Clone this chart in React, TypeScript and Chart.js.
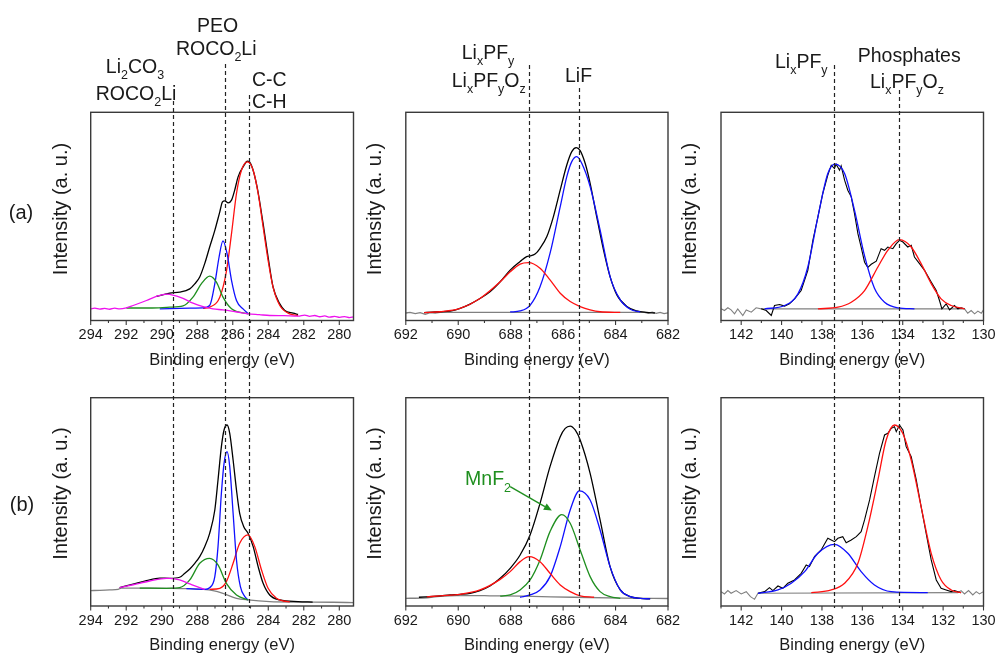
import React, { useEffect, useRef } from 'react';
import { Chart, registerables } from 'chart.js';

Chart.register(...registerables);

const FONT = '"Liberation Sans", Arial, Helvetica, sans-serif';
const TXT = '#1a1a1a';
const FRAME = '#3a3a3a';
const BLACK = '#000000';
const RED = '#ff1010';
const BLUE = '#1010ff';
const GREEN = '#1f8f1f';
const MAGENTA = '#ee11ee';
const GRAY = '#808080';

type Pt = [number, number];

// ---------- axes ----------
const C1S_RANGE: Pt = [279.2, 294];
const F1S_RANGE: Pt = [682, 692];
const P2P_RANGE: Pt = [130, 143];
const C1S_TICKS = [280, 282, 284, 286, 288, 290, 292, 294];
const F1S_TICKS = [682, 684, 686, 688, 690, 692];
const P2P_TICKS = [130, 132, 134, 136, 138, 140, 142];

// reference binding energies (dashed guide lines)
const C1S_REFS = [289.35, 286.45, 285.1];
const F1S_REFS = [687.3, 685.4];
const P2P_REFS = [137.4, 134.2];

// ---------- C 1s, sample (a) ----------
const C1S_A_MAGENTA: Pt[] = [[294.0,5.6],[293.77,5.9],[293.49,5.5],[293.21,5.8],[292.93,5.4],[292.65,5.9],[292.37,5.6],[291.99,6.1],[291.61,7.2],[290.86,9.6],[290.3,11.6],[289.7,12.7],[289.55,12.5],[288.8,10.6],[288.24,8.3],[287.67,6.7],[287.11,5.6],[286.55,5.1],[285.84,4.2],[285.12,3.2],[284.5,2.8],[283.92,2.4],[283.1,2.3],[282.32,2.1],[281.95,2.6],[281.67,2.0],[281.38,2.4],[281.1,1.8],[280.82,2.2],[280.54,1.6],[280.26,2.0],[279.98,1.5],[279.7,1.9],[279.42,1.4],[279.2,1.7]];
const C1S_A_GREEN: Pt[] = [[291.99,6.0],[290.68,6.0],[289.55,6.4],[288.8,7.0],[288.24,11.2],[287.76,17.7],[287.3,21.3],[286.92,18.4],[286.55,11.2],[286.07,5.6],[285.12,3.2]];
const C1S_A_BLUE: Pt[] = [[290.11,5.6],[288.42,5.9],[287.67,6.1],[287.3,7.2],[287.01,17.7],[286.77,30.5],[286.55,38.2],[286.32,32.1],[286.07,19.3],[285.79,9.6],[285.42,5.6],[285.12,3.2]];
const C1S_A_RED: Pt[] = [[287.67,5.8],[287.3,6.4],[286.73,11.2],[286.35,24],[286.07,41.7],[285.79,61],[285.51,72.2],[285.17,76.2],[284.85,72.2],[284.57,61],[284.29,44.9],[284.01,28.9],[283.73,16],[283.35,7.2],[282.79,3.2],[282.32,2.4]];
const C1S_A_BLACK: Pt[] = [[290.3,11.6],[289.74,12.8],[289.55,13.2],[288.99,13.6],[288.42,15.2],[288.14,17.6],[287.86,20.9],[287.58,27.3],[287.3,35.3],[287.01,43.3],[286.73,52.2],[286.58,57.0],[286.45,57.5],[286.26,56.5],[286.07,57.8],[285.89,62.6],[285.7,69.0],[285.42,73.8],[285.17,76.5],[284.95,74.6],[284.63,64.2],[284.29,46.5],[284.01,30.5],[283.73,16.1],[283.35,8.0],[283.07,4.8],[282.6,3.5],[282.32,2.9]];

// ---------- C 1s, sample (b) ----------
const C1S_B_GRAY: Pt[] = [[294.0,7.4],[293.49,7.5],[292.93,7.7],[292.46,8.0],[292.27,8.6],[291.61,8.6],[290.68,8.6],[289.55,8.5],[288.42,8.3],[287.67,8.0],[287.11,7.4],[286.55,6.1],[285.79,3.7],[285.14,2.9],[283.92,2.1],[282.32,1.9],[280.35,1.8],[279.2,1.6]];
const C1S_B_MAGENTA: Pt[] = [[292.37,8.8],[291.61,10.2],[290.68,12.0],[289.74,13.3],[289.55,13.3],[288.99,12.5],[288.42,10.6],[287.86,8.8],[287.58,8.0]];
const C1S_B_GREEN: Pt[] = [[291.24,8.6],[289.74,8.5],[289.3,8.6],[288.99,8.8],[288.42,12.5],[287.86,20.5],[287.3,22.9],[286.83,19.7],[286.36,10.9],[285.79,5.3],[285.14,2.9]];
const C1S_B_BLUE: Pt[] = [[288.61,8.3],[287.58,8.0],[287.3,8.8],[287.01,14.1],[286.83,28.5],[286.64,54.1],[286.49,68.5],[286.32,74.1],[286.17,66.9],[285.98,44.5],[285.79,22.1],[285.57,9.3],[285.32,4.5],[285.14,2.9]];
const C1S_B_RED: Pt[] = [[287.3,8.0],[286.73,8.5],[286.36,11.7],[285.98,20.5],[285.61,30.1],[285.14,34.1],[284.76,28.5],[284.38,17.3],[284.01,8.5],[283.54,3.7],[283.16,2.4],[282.79,2.0]];
const C1S_B_BLACK: Pt[] = [[292.37,8.8],[291.61,10.5],[290.86,12.2],[290.11,13.4],[289.55,13.3],[288.99,13.8],[288.7,15.7],[288.42,17.8],[288.14,20.5],[287.86,23.7],[287.58,28.5],[287.3,34.9],[287.01,46.1],[286.83,60.5],[286.64,76.5],[286.49,84.5],[286.32,86.9],[286.17,82.9],[285.98,70.1],[285.79,55.7],[285.61,44.5],[285.38,38.1],[285.14,34.9],[284.85,28.5],[284.57,18.9],[284.29,10.9],[283.92,5.3],[283.35,2.9],[282.32,2.1],[281.5,1.9]];

// ---------- F 1s, sample (a) ----------
const F1S_A_GRAY: Pt[] = [[692.0,3.6],[691.84,3.9],[691.64,3.3],[691.45,3.8],[691.26,3.0],[691.07,3.8],[690.88,3.5],[690.69,3.9],[682.9,3.9],[682.75,3.5],[682.6,4.0],[682.45,3.4],[682.3,3.9],[682.15,3.3],[682.0,3.7]];
const F1S_A_RED: Pt[] = [[691.3,3.8],[690.69,4.2],[689.93,5.8],[689.17,10.6],[688.4,18.6],[688.02,23.4],[687.64,27.1],[687.32,27.8],[686.88,25.1],[686.5,19.5],[686.11,13.1],[685.73,9.1],[685.35,6.7],[684.97,5.1],[684.59,4.2],[683.82,3.9]];
const F1S_A_BLUE: Pt[] = [[688.02,4.1],[687.64,4.6],[687.26,7.3],[686.88,16.2],[686.5,32.2],[686.11,54.7],[685.86,69.1],[685.67,76.3],[685.48,78.7],[685.29,75.5],[684.97,64.3],[684.59,43.5],[684.21,21.1],[683.82,9.9],[683.44,5.4],[683.06,4.1]];
const F1S_A_BLACK: Pt[] = [[691.3,3.8],[691.0,4.0],[690.69,4.2],[690.31,4.5],[689.93,5.8],[689.55,7.9],[689.17,10.6],[688.79,13.8],[688.4,18.6],[688.02,24.2],[687.64,28.3],[687.39,30.7],[687.26,31.0],[687.07,31.9],[686.88,34.7],[686.62,40.3],[686.37,49.9],[686.11,62.7],[685.86,74.7],[685.67,81.1],[685.5,83.0],[685.35,81.6],[685.16,75.5],[684.97,65.9],[684.72,49.9],[684.46,33.9],[684.21,21.1],[683.95,12.3],[683.57,6.7],[683.19,4.6],[682.82,3.9],[682.5,3.6]];

// ---------- F 1s, sample (b) ----------
const F1S_B_GRAY: Pt[] = [[692.0,3.7],[691.33,3.8],[690.69,4.6],[690.06,5.0],[689.42,5.0],[688.79,4.9],[687.52,4.7],[685.62,4.2],[683.71,3.8],[682.0,3.6]];
const F1S_B_RED: Pt[] = [[691.2,4.4],[690.69,4.9],[689.93,5.6],[689.17,7.7],[688.4,12.8],[688.02,16.5],[687.64,21.3],[687.29,23.7],[686.88,21.3],[686.5,15.7],[686.11,10.1],[685.73,6.9],[685.35,4.9],[684.82,4.2]];
const F1S_B_GREEN: Pt[] = [[688.4,4.7],[688.02,5.3],[687.64,7.7],[687.26,12.5],[686.88,22.1],[686.5,35.7],[686.05,43.9],[685.73,39.7],[685.35,26.9],[684.97,14.1],[684.59,6.9],[684.21,4.5],[683.82,3.7]];
const F1S_B_BLUE: Pt[] = [[687.64,4.2],[687.26,5.3],[686.88,7.7],[686.5,14.1],[686.11,28.5],[685.73,46.1],[685.38,55.3],[684.97,50.9],[684.59,36.5],[684.21,18.9],[683.82,7.7],[683.44,4.5],[683.06,3.7],[682.68,3.4]];
const F1S_B_BLACK: Pt[] = [[691.5,4.2],[690.69,4.9],[690.31,5.3],[689.93,5.6],[689.55,6.1],[689.17,7.4],[688.79,9.6],[688.4,13.3],[688.02,18.1],[687.64,24.5],[687.26,34.1],[686.88,49.3],[686.5,66.9],[686.11,81.3],[685.92,85.3],[685.73,86.4],[685.54,84.5],[685.35,79.7],[684.97,63.7],[684.59,41.3],[684.21,18.9],[683.82,7.7],[683.44,4.5],[683.06,3.7],[682.68,3.4]];
// MnF2 pointer (label anchor, arrow start, arrow tip)
const MNF2_LABEL: Pt = [689.74, 58.1];
const MNF2_FROM: Pt = [688.02, 57.3];
const MNF2_TO: Pt = [686.43, 45.8];

// ---------- P 2p, sample (a) ----------
const P2P_A_GRAY: Pt[] = [[142.99,5.6],[142.83,4.8],[142.66,6.1],[142.5,5.1],[142.33,3.2],[142.17,5.6],[141.92,2.4],[141.75,5.1],[141.5,4.0],[141.26,6.1],[141.01,5.6],[130.94,5.6],[130.78,3.5],[130.61,4.8],[130.44,3.2],[130.28,4.5],[130.11,3.5],[130.0,5.1]];
const P2P_A_BLUE: Pt[] = [[140.84,5.6],[139.85,7.2],[139.19,12.8],[138.7,25.7],[138.2,49.8],[137.71,70.6],[137.35,75.1],[136.88,70.6],[136.39,53],[135.89,31],[135.4,15.5],[134.9,8.8],[134.24,6.1],[133.42,5.6]];
const P2P_A_RED: Pt[] = [[138.2,5.6],[137.21,6.4],[136.55,8.8],[135.89,14.4],[135.23,25.7],[134.74,33.7],[134.16,38.8],[133.58,35.3],[133.09,27.3],[132.59,17.7],[132.1,10.4],[131.6,7.2],[130.94,5.6]];
const P2P_A_BLACK: Pt[] = [[141.01,5.6],[140.76,4.8],[140.51,2.4],[140.35,7.2],[140.1,7.7],[139.85,6.9],[139.61,8.0],[139.36,10.4],[139.03,14.4],[138.7,24.1],[138.45,38.5],[138.2,49.8],[137.96,61.0],[137.71,69.8],[137.54,74.6],[137.38,73.0],[137.3,75.1],[137.13,72.2],[137.05,74.3],[136.88,67.4],[136.72,62.6],[136.55,59.4],[136.39,51.4],[136.22,41.7],[136.06,35.3],[135.89,28.0],[135.73,25.5],[135.56,27.0],[135.31,28.5],[135.07,34.5],[134.9,33.7],[134.74,35.3],[134.49,34.5],[134.32,36.9],[134.16,38.5],[133.99,37.7],[133.75,35.3],[133.58,36.1],[133.42,30.5],[133.17,27.3],[132.92,24.1],[132.59,18.5],[132.34,14.4],[132.18,9.6],[132.06,5.6],[131.85,8.0],[131.68,5.1],[131.44,7.2],[131.27,5.6],[131.11,6.1],[130.94,5.6]];

// ---------- P 2p, sample (b) ----------
const P2P_B_GRAY: Pt[] = [[142.99,6.9],[142.83,5.8],[142.66,7.4],[142.5,6.1],[142.25,7.4],[142.0,5.8],[141.75,6.9],[141.54,4.5],[141.34,3.2],[141.17,6.1],[131.27,6.4],[131.11,7.4],[130.94,5.8],[130.74,7.4],[130.53,5.3],[130.36,6.9],[130.2,5.8],[130.0,6.9]];
const P2P_B_BLUE: Pt[] = [[141.17,6.1],[140.18,7.7],[139.52,10.9],[138.86,16.5],[138.2,25.3],[137.38,29.6],[136.72,25.3],[136.06,16.5],[135.4,10.1],[134.57,6.9],[132.76,6.4]];
const P2P_B_RED: Pt[] = [[138.53,6.4],[137.54,7.7],[136.88,10.9],[136.22,20.5],[135.73,38.1],[135.23,60.5],[134.82,79.7],[134.41,86.9],[134.0,82.9],[133.58,70.1],[133.09,47.7],[132.59,25.3],[132.1,12.5],[131.6,7.7],[131.11,6.4]];
const P2P_B_BLACK: Pt[] = [[141.17,6.1],[140.84,6.9],[140.6,8.8],[140.43,7.4],[140.18,9.6],[139.94,8.5],[139.69,10.9],[139.36,12.5],[139.03,15.7],[138.78,19.7],[138.62,18.9],[138.37,23.7],[138.04,26.9],[137.71,32.5],[137.54,31.7],[137.38,30.9],[137.21,32.5],[136.97,33.3],[136.8,30.4],[136.55,31.7],[136.3,33.3],[136.06,35.7],[135.89,41.3],[135.64,50.9],[135.4,62.1],[135.15,73.3],[134.9,82.1],[134.74,82.9],[134.57,85.3],[134.41,86.1],[134.32,83.7],[134.16,86.9],[133.99,84.5],[133.83,76.5],[133.58,71.7],[133.33,60.5],[133.09,47.7],[132.84,34.9],[132.59,22.1],[132.34,12.5],[132.1,8.5],[131.85,7.7],[131.6,6.9],[131.44,7.4],[131.11,6.4]];

// ---------- layout ----------
const COLS = [
  { left: 0, width: 360, padLeft: 90.7, padRight: 6.5 },
  { left: 360, width: 320, padLeft: 45.8, padRight: 12 },
  { left: 680, width: 315, padLeft: 41, padRight: 11.5 },
];
const ROWS = [
  { top: 0, height: 375, padTop: 112.3, xHeight: 54.5, titlePad: 4.6 },
  { top: 375, height: 280, padTop: 22.7, xHeight: 49, titlePad: 0 },
];

type Seg = [string, number];
interface Series { data: Pt[]; color: string; smooth: boolean; width?: number }
interface Ann { segs: Seg[]; x: number; y: number; align: 'left' | 'center' }
interface PanelCfg {
  col: number; row: number;
  range: Pt; ticks: number[]; refs: number[]; refTops?: number[];
  series: Series[]; anns: Ann[];
  label?: { text: string; x: number; y: number };
  yTitle: { x: number; y: number };
  arrow?: { label: Pt; from: Pt; to: Pt };
}

const LIXPFY: Seg[] = [['Li', 0], ['x', 1], ['PF', 0], ['y', 1]];
const LIXPFYOZ: Seg[] = [['Li', 0], ['x', 1], ['PF', 0], ['y', 1], ['O', 0], ['z', 1]];
const ROCO2LI: Seg[] = [['ROCO', 0], ['2', 1], ['Li', 0]];

const PANELS: PanelCfg[] = [
  {
    col: 0, row: 0, range: C1S_RANGE, ticks: C1S_TICKS, refs: C1S_REFS, refTops: [101, 64, 95],
    series: [
      { data: C1S_A_MAGENTA, color: MAGENTA, smooth: true },
      { data: C1S_A_GREEN, color: GREEN, smooth: true },
      { data: C1S_A_BLUE, color: BLUE, smooth: true },
      { data: C1S_A_RED, color: RED, smooth: true },
      { data: C1S_A_BLACK, color: BLACK, smooth: true },
    ],
    anns: [
      { segs: [['Li', 0], ['2', 1], ['CO', 0], ['3', 1]], x: 135, y: 73.3, align: 'center' },
      { segs: ROCO2LI, x: 136, y: 100, align: 'center' },
      { segs: [['PEO', 0]], x: 217.5, y: 31.7, align: 'center' },
      { segs: ROCO2LI, x: 216.2, y: 55, align: 'center' },
      { segs: [['C-C', 0]], x: 252, y: 86, align: 'left' },
      { segs: [['C-H', 0]], x: 252, y: 108.3, align: 'left' },
    ],
    label: { text: '(a)', x: 21, y: 213 },
    yTitle: { x: 61.5, y: 209 },
  },
  {
    col: 1, row: 0, range: F1S_RANGE, ticks: F1S_TICKS, refs: F1S_REFS, refTops: [65, 88],
    series: [
      { data: F1S_A_RED, color: RED, smooth: true },
      { data: F1S_A_BLUE, color: BLUE, smooth: true },
      { data: F1S_A_BLACK, color: BLACK, smooth: true },
      { data: F1S_A_GRAY, color: GRAY, smooth: false },
    ],
    anns: [
      { segs: LIXPFY, x: 101.7, y: 59.3, align: 'left' },
      { segs: LIXPFYOZ, x: 91.7, y: 87.3, align: 'left' },
      { segs: [['LiF', 0]], x: 205, y: 81.7, align: 'left' },
    ],
    yTitle: { x: 15.5, y: 209 },
  },
  {
    col: 2, row: 0, range: P2P_RANGE, ticks: P2P_TICKS, refs: P2P_REFS, refTops: [65, 90],
    series: [
      { data: P2P_A_RED, color: RED, smooth: true },
      { data: P2P_A_BLUE, color: BLUE, smooth: true },
      { data: P2P_A_BLACK, color: BLACK, smooth: false, width: 1.1 },
      { data: P2P_A_GRAY, color: GRAY, smooth: false, width: 1.1 },
    ],
    anns: [
      { segs: LIXPFY, x: 95, y: 68, align: 'left' },
      { segs: [['Phosphates', 0]], x: 177.7, y: 61.7, align: 'left' },
      { segs: LIXPFYOZ, x: 190, y: 88.3, align: 'left' },
    ],
    yTitle: { x: 10.5, y: 209 },
  },
  {
    col: 0, row: 1, range: C1S_RANGE, ticks: C1S_TICKS, refs: C1S_REFS,
    series: [
      { data: C1S_B_MAGENTA, color: MAGENTA, smooth: true },
      { data: C1S_B_GREEN, color: GREEN, smooth: true },
      { data: C1S_B_BLUE, color: BLUE, smooth: true },
      { data: C1S_B_RED, color: RED, smooth: true },
      { data: C1S_B_BLACK, color: BLACK, smooth: true },
      { data: C1S_B_GRAY, color: GRAY, smooth: true },
    ],
    anns: [],
    label: { text: '(b)', x: 22, y: 130 },
    yTitle: { x: 61.5, y: 118.5 },
  },
  {
    col: 1, row: 1, range: F1S_RANGE, ticks: F1S_TICKS, refs: F1S_REFS,
    series: [
      { data: F1S_B_RED, color: RED, smooth: true },
      { data: F1S_B_GREEN, color: GREEN, smooth: true },
      { data: F1S_B_BLUE, color: BLUE, smooth: true },
      { data: F1S_B_BLACK, color: BLACK, smooth: true },
      { data: F1S_B_GRAY, color: GRAY, smooth: true },
    ],
    anns: [],
    yTitle: { x: 15.5, y: 118.5 },
    arrow: { label: MNF2_LABEL, from: MNF2_FROM, to: MNF2_TO },
  },
  {
    col: 2, row: 1, range: P2P_RANGE, ticks: P2P_TICKS, refs: P2P_REFS,
    series: [
      { data: P2P_B_RED, color: RED, smooth: true },
      { data: P2P_B_BLUE, color: BLUE, smooth: true },
      { data: P2P_B_BLACK, color: BLACK, smooth: false, width: 1.1 },
      { data: P2P_B_GRAY, color: GRAY, smooth: false, width: 1.1 },
    ],
    anns: [],
    yTitle: { x: 10.5, y: 118.5 },
  },
];

function drawRich(ctx: CanvasRenderingContext2D, segs: Seg[], x: number, y: number, align: string, color: string, size = 19.5, subSize = 12.5, subDy = 5.5) {
  const fMain = `${size}px ${FONT}`;
  const fSub = `${subSize}px ${FONT}`;
  let w = 0;
  for (const [t, s] of segs) { ctx.font = s ? fSub : fMain; w += ctx.measureText(t).width; }
  let cx = align === 'center' ? x - w / 2 : x;
  ctx.fillStyle = color;
  ctx.textAlign = 'left';
  ctx.textBaseline = 'alphabetic';
  for (const [t, s] of segs) {
    ctx.font = s ? fSub : fMain;
    ctx.fillText(t, cx, y + (s ? subDy : 0));
    cx += ctx.measureText(t).width;
  }
}

function Panel({ cfg }: { cfg: PanelCfg }) {
  const ref = useRef<HTMLCanvasElement | null>(null);
  const col = COLS[cfg.col];
  const row = ROWS[cfg.row];

  useEffect(() => {
    const canvas = ref.current;
    if (!canvas) return;
    const decor = {
      id: 'decor',
      afterDraw(chart: any) {
        const ctx: CanvasRenderingContext2D = chart.ctx;
        const a = chart.chartArea;
        const xs = chart.scales.x;
        const ys = chart.scales.y;
        ctx.save();
        // frame
        ctx.setLineDash([]);
        ctx.strokeStyle = FRAME;
        ctx.lineWidth = 1.4;
        ctx.strokeRect(a.left, a.top, a.right - a.left, a.bottom - a.top);
        // major / minor tick marks
        ctx.lineWidth = 1.1;
        ctx.beginPath();
        for (let v = Math.ceil(cfg.range[0]); v <= Math.floor(cfg.range[1]); v++) {
          const px = xs.getPixelForValue(v);
          const len = cfg.ticks.includes(v) ? 4.5 : 2.5;
          ctx.moveTo(px, a.bottom);
          ctx.lineTo(px, a.bottom + len);
        }
        ctx.stroke();
        // dashed reference lines
        ctx.setLineDash([4, 3]);
        ctx.strokeStyle = '#222';
        ctx.lineWidth = 1.2;
        cfg.refs.forEach((v, i) => {
          const px = Math.round(xs.getPixelForValue(v)) + 0.5;
          const y0 = cfg.row === 0 ? (cfg.refTops as number[])[i] : 0;
          const y1 = cfg.row === 0 ? chart.height : a.bottom + 2;
          ctx.beginPath();
          ctx.moveTo(px, y0);
          ctx.lineTo(px, y1);
          ctx.stroke();
        });
        ctx.setLineDash([]);
        // peak annotations
        cfg.anns.forEach((an) => drawRich(ctx, an.segs, an.x, an.y, an.align, TXT));
        // y-axis title
        ctx.save();
        ctx.translate(cfg.yTitle.x, cfg.yTitle.y);
        ctx.rotate(-Math.PI / 2);
        ctx.font = `20px ${FONT}`;
        ctx.fillStyle = TXT;
        ctx.textAlign = 'center';
        ctx.textBaseline = 'middle';
        ctx.fillText('Intensity (a. u.)', 0, 0);
        ctx.restore();
        // panel label
        if (cfg.label) {
          ctx.font = `20px ${FONT}`;
          ctx.fillStyle = TXT;
          ctx.textAlign = 'center';
          ctx.textBaseline = 'middle';
          ctx.fillText(cfg.label.text, cfg.label.x, cfg.label.y);
        }
        // MnF2 pointer
        if (cfg.arrow) {
          const lx = xs.getPixelForValue(cfg.arrow.label[0]);
          const ly = ys.getPixelForValue(cfg.arrow.label[1]);
          drawRich(ctx, [['MnF', 0], ['2', 1]], lx, ly, 'left', GREEN, 19.5, 12.5, 7);
          const x1 = xs.getPixelForValue(cfg.arrow.from[0]);
          const y1 = ys.getPixelForValue(cfg.arrow.from[1]);
          const x2 = xs.getPixelForValue(cfg.arrow.to[0]);
          const y2 = ys.getPixelForValue(cfg.arrow.to[1]);
          const ang = Math.atan2(y2 - y1, x2 - x1);
          const hl = 8, hw = 3.6;
          const bx = x2 - hl * Math.cos(ang);
          const by = y2 - hl * Math.sin(ang);
          ctx.strokeStyle = GREEN;
          ctx.fillStyle = GREEN;
          ctx.lineWidth = 1.4;
          ctx.beginPath();
          ctx.moveTo(x1, y1);
          ctx.lineTo(bx, by);
          ctx.stroke();
          ctx.beginPath();
          ctx.moveTo(x2, y2);
          ctx.lineTo(bx + hw * Math.sin(ang), by - hw * Math.cos(ang));
          ctx.lineTo(bx - hw * Math.sin(ang), by + hw * Math.cos(ang));
          ctx.closePath();
          ctx.fill();
        }
        ctx.restore();
      },
    };

    const chart = new Chart(canvas, {
      type: 'line',
      data: {
        datasets: cfg.series.map((s) => ({
          data: s.data.map(([x, y]) => ({ x, y })),
          borderColor: s.color,
          backgroundColor: s.color,
          borderWidth: s.width ?? 1.3,
          pointRadius: 0,
          fill: false,
          tension: s.smooth ? 0.4 : 0,
          cubicInterpolationMode: s.smooth ? 'monotone' : 'default',
        })),
      },
      options: {
        animation: false,
        responsive: false,
        maintainAspectRatio: false,
        events: [],
        layout: { padding: { left: col.padLeft, right: col.padRight, top: row.padTop, bottom: 0 } },
        plugins: { legend: { display: false }, tooltip: { enabled: false } },
        scales: {
          x: {
            type: 'linear',
            position: 'bottom',
            reverse: true,
            min: cfg.range[0],
            max: cfg.range[1],
            grid: { display: false, drawTicks: false },
            border: { display: false },
            afterBuildTicks: (s: any) => { s.ticks = cfg.ticks.map((v) => ({ value: v })); },
            afterFit: (s: any) => { s.height = row.xHeight; s.paddingLeft = 0; s.paddingRight = 0; },
            ticks: { autoSkip: false, maxRotation: 0, minRotation: 0, padding: 6, color: TXT, font: { family: FONT, size: 14.5 } },
            title: {
              display: true,
              text: 'Binding energy (eV)',
              color: TXT,
              font: { family: FONT, size: 16.5 },
              padding: { top: 0, bottom: row.titlePad },
            },
          },
          y: { type: 'linear', display: false, min: 0, max: 100 },
        },
      } as any,
      plugins: [decor],
    });
    return () => chart.destroy();
  }, []);

  return (
    <canvas
      ref={ref}
      width={col.width}
      height={row.height}
      style={{ position: 'absolute', left: col.left, top: row.top, width: col.width, height: row.height }}
    />
  );
}

export default function App() {
  return (
    <div style={{ position: 'fixed', left: 0, top: 0, width: 995, height: 655, background: '#ffffff', overflow: 'hidden' }}>
      {PANELS.map((p, i) => <Panel key={i} cfg={p} />)}
    </div>
  );
}
